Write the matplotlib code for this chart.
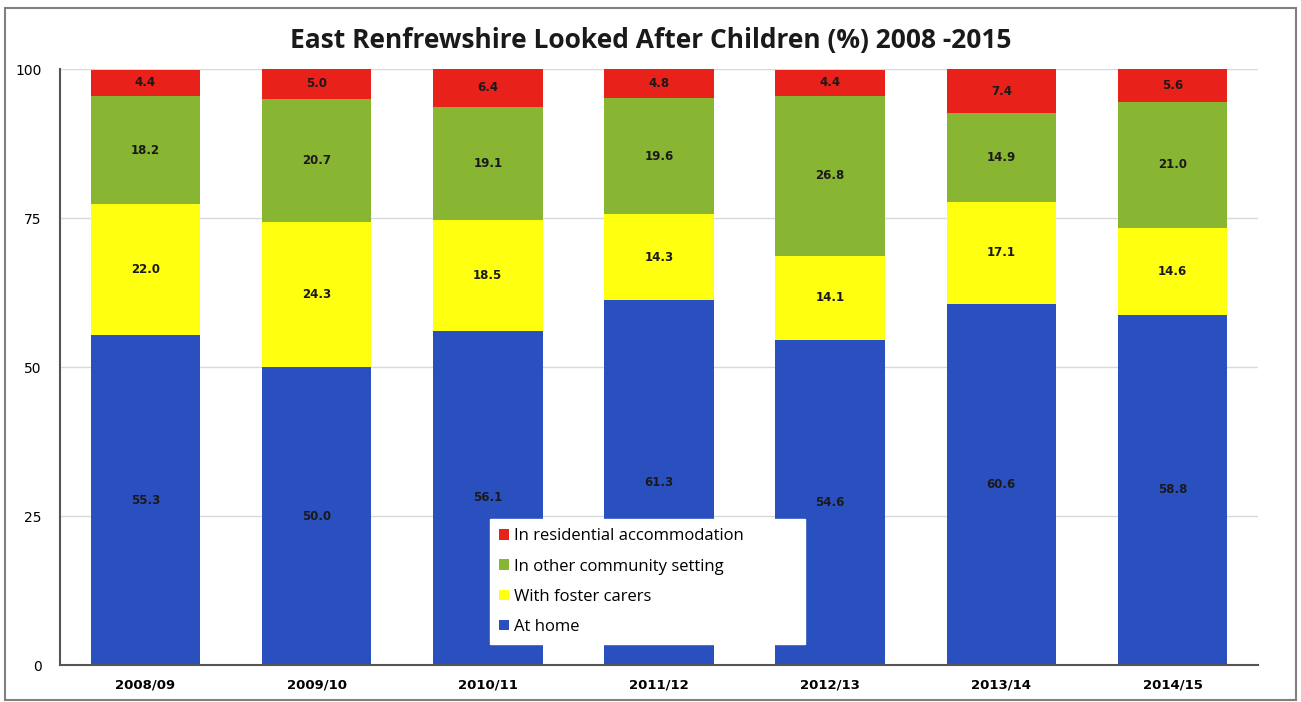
"""East Renfrewshire looked after children, stacked bar chart"""
import numpy as np
import matplotlib
matplotlib.use("Agg")
import matplotlib.pyplot as plt
from matplotlib.patches import Rectangle

# -----------------------------------------------------------------------------
# Data

years = ["2008/09", "2009/10", "2010/11", "2011/12", "2012/13", "2013/14", "2014/15"]
at_home = [55.3, 50.0, 56.1, 61.3, 54.6, 60.6, 58.8]
foster = [22.0, 24.3, 18.5, 14.3, 14.1, 17.1, 14.6]
community = [18.2, 20.7, 19.1, 19.6, 26.8, 14.9, 21.0]
residential = [4.4, 5.0, 6.4, 4.8, 4.4, 7.4, 5.6]

series = [
    ("At home", at_home, "#2a50bf"),
    ("With foster carers", foster, "#ffff10"),
    ("In other community setting", community, "#88b532"),
    ("In residential accommodation", residential, "#e8221a"),
]

# -----------------------------------------------------------------------------
# Plot

fig = plt.figure(figsize=(13.01, 7.02), dpi=100)
ax = fig.add_axes([0.046, 0.0527, 0.921, 0.849])

# Outer frame round the whole chart
fig.patches.append(Rectangle((0.004, 0.003), 0.992, 0.985, transform=fig.transFigure,
                             fill=False, edgecolor="#808080", linewidth=1.5))

x = np.arange(len(years))
bottom = np.zeros(len(years))
for name, vals, color in series:
    vals = np.array(vals)
    ax.bar(x, vals, width=0.64, bottom=bottom, color=color, label=name,
           zorder=2, linewidth=0)
    for xi, bi, vi in zip(x, bottom, vals):
        ax.text(xi, bi + vi / 2, f"{vi:.1f}", ha="center", va="center",
                fontsize=8.5, fontweight="bold", color="#1a1a1a", zorder=3)
    bottom += vals

ax.set_xlim(-0.5, 6.5)
ax.set_ylim(0, 100)
ax.set_yticks([0, 25, 50, 75, 100])
ax.set_yticklabels(["0", "25", "50", "75", "100"], fontsize=10)
ax.set_xticks(x)
ax.set_xticklabels(years, fontsize=9.5, fontweight="bold")
ax.tick_params(axis="both", length=0)
ax.tick_params(axis="y", pad=13)
ax.tick_params(axis="x", pad=10)
ax.grid(axis="y", color="#d9d9d9", linewidth=1, zorder=0)

for side in ["top", "right"]:
    ax.spines[side].set_visible(False)
for side in ["left", "bottom"]:
    ax.spines[side].set_color("#555555")
    ax.spines[side].set_linewidth(1.5)

fig.text(0.5, 0.943, "East Renfrewshire Looked After Children (%) 2008 -2015",
         ha="center", va="center", fontsize=19, fontweight="bold",
         family="Open Sans", color="#1a1a1a")

handles, labels = ax.get_legend_handles_labels()
leg = ax.legend(handles[::-1], labels[::-1], loc="lower left",
                bbox_to_anchor=(0.359, 0.035, 0.263, 0.206), mode="expand",
                borderaxespad=0,
                prop={"family": "Open Sans", "size": 12}, frameon=True,
                fancybox=False, edgecolor="white", framealpha=1,
                handlelength=0.6, handleheight=0.6, handletextpad=0.3,
                labelspacing=0.85, borderpad=0.55)
leg.set_zorder(5)

fig.savefig("out.png", dpi=100)
